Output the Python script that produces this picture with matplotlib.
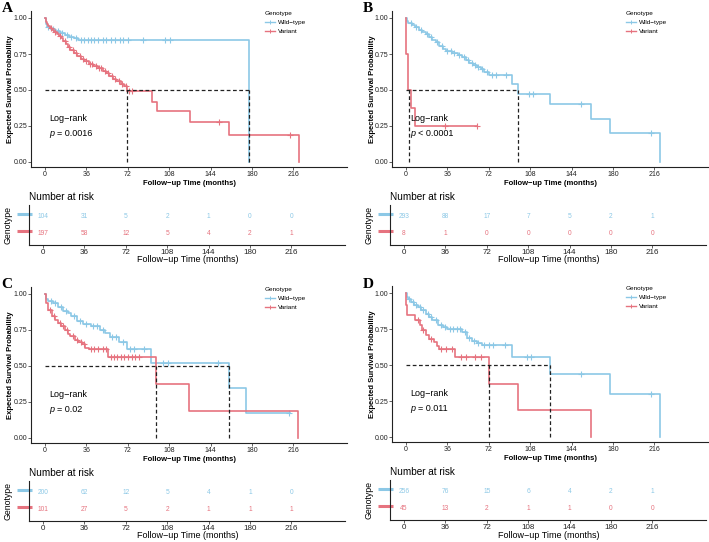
import numpy as np
import matplotlib
matplotlib.use('Agg')
import matplotlib.pyplot as plt
import matplotlib.transforms as mtransforms
from matplotlib.lines import Line2D

plt.rcParams['font.family'] = ['Liberation Sans', 'DejaVu Sans']

W, H = 709, 542
BLUE = '#8CC8E6'
RED = '#E6737F'
DARK = '#222222'

groups = ['Wild\u2212type', 'Variant']
months = [0, 36, 72, 108, 144, 180, 216]
surv_ticks = [0.0, 0.25, 0.5, 0.75, 1.0]

# ---- panel A ----
A_wt_t = [0, 0.5, 2, 5, 9, 13, 17, 21, 25, 29, 177]
A_wt_s = [1.0, 0.96, 0.935, 0.925, 0.91, 0.895, 0.88, 0.87, 0.86, 0.845, 0.0]
A_wt_cens = [3, 7, 11, 15, 19, 23, 27, 31, 34, 37, 40, 43, 46, 50, 53, 57, 61, 65, 68, 72, 85, 104, 109]
A_var_t = [0, 0.5, 1.5, 3, 4.5, 6, 8, 10, 12, 14, 16, 18, 20, 22, 25, 28, 31, 34, 38, 42,
           46, 50, 53, 56, 59, 62, 66, 69, 71, 93, 97, 126, 160, 221]
A_var_s = [1.0, 0.975, 0.96, 0.945, 0.93, 0.92, 0.905, 0.89, 0.875, 0.86, 0.84, 0.82, 0.8, 0.78,
           0.76, 0.735, 0.715, 0.7, 0.68, 0.665, 0.65, 0.635, 0.62, 0.6, 0.575, 0.56, 0.545,
           0.525, 0.495, 0.42, 0.355, 0.28, 0.19, 0.0]
A_var_cens = [5, 9, 13, 17, 21, 24, 27, 30, 33, 36, 39, 41, 44, 47, 49, 52, 55, 58, 61, 64, 67,
              70, 73, 76, 151, 213]
A_medians = [71, 177]
A_p = '= 0.0016'
A_risk_wt = [104, 31, 5, 2, 1, 0, 0]
A_risk_var = [197, 58, 12, 5, 4, 2, 1]

# ---- panel B ----
B_wt_t = [0, 0.5, 2, 5, 8, 11, 14, 17, 20, 23, 26, 29, 32, 35, 40, 45, 49, 52, 55, 58,
          62, 65, 68, 72, 92, 97, 125, 161, 177, 221]
B_wt_s = [1.0, 0.98, 0.965, 0.95, 0.935, 0.92, 0.905, 0.89, 0.87, 0.85, 0.83, 0.805, 0.785,
          0.77, 0.755, 0.745, 0.73, 0.71, 0.69, 0.675, 0.66, 0.645, 0.625, 0.605, 0.545,
          0.475, 0.40, 0.30, 0.20, 0.0]
B_wt_cens = [4, 9, 13, 18, 22, 27, 31, 36, 39, 42, 46, 50, 54, 57, 60, 63, 66, 70, 75, 78, 87,
             107, 110, 152, 213]
B_var_t = [0, 0.3, 1.4, 4.6, 8.1, 62]
B_var_s = [1.0, 0.75, 0.5, 0.375, 0.25, 0.25]
B_var_cens = [34, 62]
B_medians = [2.3, 97]
B_p = '< 0.0001'
B_risk_wt = [293, 88, 17, 7, 5, 2, 1]
B_risk_var = [8, 1, 0, 0, 0, 0, 0]

# ---- panel C ----
C_wt_t = [0, 0.5, 3, 7, 11, 16, 20, 23, 27.5, 33, 40, 48, 52, 56.5, 64, 71, 92, 160, 175, 213]
C_wt_s = [1.0, 0.965, 0.95, 0.935, 0.91, 0.885, 0.865, 0.845, 0.81, 0.79, 0.78, 0.75, 0.73,
          0.70, 0.665, 0.615, 0.52, 0.35, 0.175, 0.175]
C_wt_cens = [5, 9, 14, 18, 25, 30, 36, 42, 45, 50, 58, 62, 68, 74, 77, 86, 103, 107, 150, 212]
C_var_t = [0, 0.5, 1, 3, 6, 9, 11.6, 14, 17, 20, 22, 26, 29, 32, 35, 38, 55, 96.5, 125, 220]
C_var_s = [1.0, 0.96, 0.94, 0.89, 0.845, 0.82, 0.80, 0.775, 0.75, 0.725, 0.705, 0.68, 0.665,
           0.65, 0.625, 0.615, 0.565, 0.375, 0.185, 0.0]
C_var_cens = [4, 8, 13, 16, 19, 24, 28, 31, 34, 40, 43, 46, 50, 53, 57, 60, 63, 66, 69, 72,
              76, 78, 82]
C_medians = [96.5, 160]
C_p = '= 0.02'
C_risk_wt = [200, 62, 12, 5, 4, 1, 0]
C_risk_var = [101, 27, 5, 2, 1, 1, 1]

# ---- panel D ----
D_wt_t = [0, 0.5, 2, 4, 7, 10, 13, 17, 20, 23, 28, 32, 36, 49, 53, 57, 62, 66, 92, 125.5, 177, 221]
D_wt_s = [1.0, 0.975, 0.955, 0.94, 0.92, 0.90, 0.88, 0.855, 0.835, 0.81, 0.78, 0.765, 0.75,
          0.73, 0.69, 0.67, 0.655, 0.64, 0.555, 0.44, 0.30, 0.0]
D_wt_cens = [3, 6, 9, 12, 15, 19, 22, 26, 30, 34, 38, 41, 44, 47, 51, 55, 59, 63, 68, 72, 76,
             86, 105, 109, 152, 213]
D_var_t = [0, 0.3, 1, 8, 12.5, 14, 17, 19.7, 24, 27, 28.4, 43, 72, 97, 161]
D_var_s = [1.0, 0.915, 0.85, 0.81, 0.775, 0.74, 0.705, 0.68, 0.66, 0.635, 0.61, 0.555, 0.37,
           0.185, 0.0]
D_var_cens = [10, 15, 22, 30, 35, 40, 48, 52, 60, 65]
D_medians = [72, 125.5]
D_p = '= 0.011'
D_risk_wt = [256, 76, 15, 6, 4, 2, 1]
D_risk_var = [45, 13, 2, 1, 1, 0, 0]

fig = plt.figure(figsize=(W / 100, H / 100), dpi=100)

XL = (-12, 263)
PX = 1.15


def box(x0, y0, x1, y1):
    return [x0 / W, 1 - y1 / H, (x1 - x0) / W, (y1 - y0) / H]


def surv_at(t, s, x):
    i = np.searchsorted(t, x, side='right') - 1
    return np.asarray(s)[i]


def km_panel(ox, oy, letter, wt, var, medians, ptext):
    x0 = ox + 45 + XL[0] * PX
    x1 = ox + 45 + XL[1] * PX
    yt = oy + 18 - 0.05 * 144
    yb = oy + 162 + 0.035 * 144
    ax = fig.add_axes(box(x0, yt, x1, yb))
    for (t, s, cens), c in zip([wt, var], [BLUE, RED]):
        ax.step(t, s, where='post', color=c, lw=1.2, zorder=3)
        ax.plot(cens, surv_at(t, s, cens), ls='none', marker='+', ms=3.8, mew=0.8,
                color=c, zorder=3)
    ax.plot([0, max(medians)], [0.5, 0.5], color=DARK, ls=(0, (3, 2)), lw=0.9, zorder=4)
    for m in medians:
        ax.plot([m, m], [0, 0.5], color=DARK, ls=(0, (3, 2)), lw=0.9, zorder=4)
    ax.set_xlim(*XL)
    ax.set_ylim(-0.035, 1.05)
    ax.set_xticks(months)
    ax.set_yticks(surv_ticks)
    ax.set_yticklabels(['%.2f' % v for v in surv_ticks])
    ax.tick_params(labelsize=5, length=2, width=0.5, pad=1, colors=DARK)
    for sp in ['top', 'right']:
        ax.spines[sp].set_visible(False)
    for sp in ['left', 'bottom']:
        ax.spines[sp].set_linewidth(0.8)
        ax.spines[sp].set_color(DARK)
    ax.set_xlabel('Follow\u2212up Time (months)', fontsize=5.5, fontweight='bold')
    ax.xaxis.label.set_va('center')
    ax.xaxis.set_label_coords(0.5, -(183 - 167) / (yb - yt))
    ax.set_ylabel('Expected Survival Probability', fontsize=5.5, fontweight='bold')
    ax.yaxis.label.set_va('center')
    ax.yaxis.set_label_coords(-(x0 - ox - 11) / (x1 - x0), 0.5)
    ax.text(4, 0.30, 'Log\u2212rank', fontsize=6.5, va='center', ha='left')
    ax.text(4, 0.20, 'p', fontsize=6.5, va='center', ha='left', fontstyle='italic')
    ax.annotate(ptext, xy=(4, 0.20), xytext=(5.5, 0), textcoords='offset points',
                fontsize=6.5, va='center', ha='left')
    handles = [Line2D([], [], color=BLUE, marker='+', ms=3, mew=0.7, lw=1.0),
               Line2D([], [], color=RED, marker='+', ms=3, mew=0.7, lw=1.0)]
    ax.legend(handles, groups, title='Genotype', loc='upper left',
              bbox_to_anchor=((ox + 265 - x0) / (x1 - x0), 1.0), frameon=False,
              fontsize=4.6, title_fontsize=4.6, handlelength=1.6, handletextpad=0.5,
              borderaxespad=0, borderpad=0, alignment='left', labelspacing=0.6)
    fig.text((ox + 7) / W, 1 - (oy + 9) / H, letter, fontsize=11, fontweight='bold',
             family='Liberation Serif', ha='center', va='center')


def risk_panel(ox, oy, n_wt, n_var):
    x0 = ox + 43 + XL[0] * PX
    x1 = ox + 43 + XL[1] * PX
    yt = oy + 205
    yb = oy + 245
    ax = fig.add_axes(box(x0, yt, x1, yb))
    ax.set_xlim(*XL)
    ax.set_ylim(-0.65, 1.7)
    for row, vals, c in [(1, n_wt, BLUE), (0, n_var, RED)]:
        for m, n in zip(months, vals):
            ax.text(m, row, str(n), color=c, fontsize=4.8, ha='center', va='center')
        trans = mtransforms.blended_transform_factory(ax.transAxes, ax.transData)
        ax.plot([-12 / (x1 - x0), 3 / (x1 - x0)], [row + 0.15, row + 0.15], color=c, lw=2.2,
                solid_capstyle='butt', transform=trans, clip_on=False)
    ax.set_xticks(months)
    ax.set_yticks([])
    ax.tick_params(labelsize=5.8, length=2, width=0.5, pad=1, colors=DARK)
    for sp in ['top', 'right']:
        ax.spines[sp].set_visible(False)
    for sp in ['left', 'bottom']:
        ax.spines[sp].set_linewidth(0.8)
        ax.spines[sp].set_color(DARK)
    ax.set_xlabel('Follow\u2212up Time (months)', fontsize=6.5)
    ax.xaxis.label.set_va('center')
    ax.xaxis.set_label_coords(0.5, -(260 - 245) / (yb - yt))
    ax.set_ylabel('Genotype', fontsize=6.3)
    ax.yaxis.label.set_va('center')
    ax.yaxis.set_label_coords(-(x0 - ox - 8) / (x1 - x0), 0.5)
    fig.text((ox + 29) / W, 1 - (oy + 197) / H, 'Number at risk', fontsize=7.2,
             ha='left', va='center')


panels = [
    (0, 0, 'A', (A_wt_t, A_wt_s, A_wt_cens), (A_var_t, A_var_s, A_var_cens), A_medians, A_p,
     A_risk_wt, A_risk_var),
    (361, 0, 'B', (B_wt_t, B_wt_s, B_wt_cens), (B_var_t, B_var_s, B_var_cens), B_medians, B_p,
     B_risk_wt, B_risk_var),
    (0, 276, 'C', (C_wt_t, C_wt_s, C_wt_cens), (C_var_t, C_var_s, C_var_cens), C_medians, C_p,
     C_risk_wt, C_risk_var),
    (361, 275, 'D', (D_wt_t, D_wt_s, D_wt_cens), (D_var_t, D_var_s, D_var_cens), D_medians, D_p,
     D_risk_wt, D_risk_var),
]

for ox, oy, letter, wt, var, med, ptxt, rwt, rvar in panels:
    km_panel(ox, oy, letter, wt, var, med, ptxt)
    risk_panel(ox, oy, rwt, rvar)

fig.savefig('out.png', dpi=100)
